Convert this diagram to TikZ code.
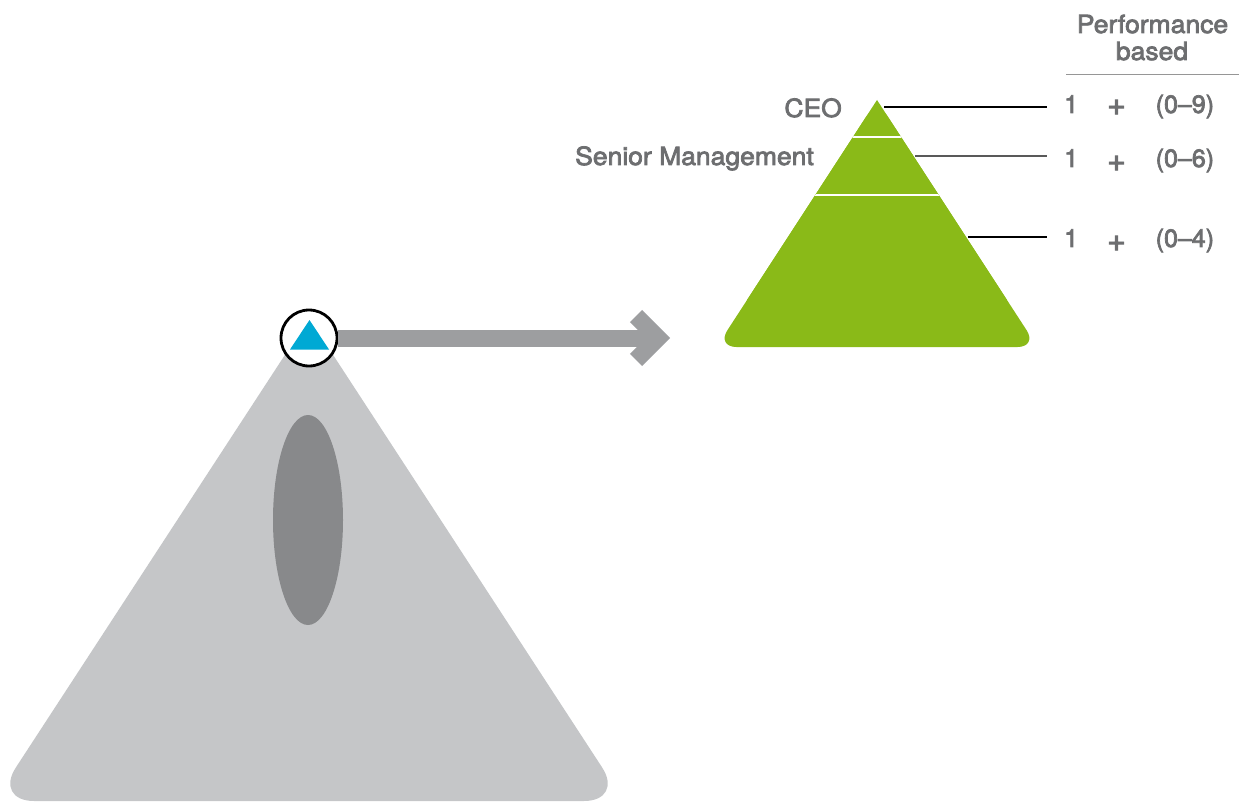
\documentclass[tikz,border=0pt]{standalone}
\usepackage{fontspec}
\setmainfont{TeX Gyre Heros}
\newfontfamily\labfont{TeX Gyre Heros}[FakeStretch=1.06,FakeBold=3]
\newfontfamily\numfont{TeX Gyre Heros}[FakeBold=3]
\definecolor{txtgray}{RGB}{109,110,112}
\definecolor{lgray}{RGB}{197,198,200}
\definecolor{dgray}{RGB}{136,137,139}
\definecolor{agray}{RGB}{157,158,160}
\definecolor{pgreen}{RGB}{138,186,24}
\definecolor{tblue}{RGB}{0,169,212}
\definecolor{rulegray}{RGB}{150,150,150}
\begin{document}
\begin{tikzpicture}[x=1pt,y=-1pt,
  lab/.style={text=txtgray,font=\labfont\fontsize{25}{30}\selectfont,inner sep=0pt},
  numtxt/.style={text=txtgray,font=\numfont\fontsize{25}{30}\selectfont,inner sep=0pt,anchor=base west},
  plustxt/.style={text=txtgray,font=\numfont\fontsize{32}{36}\selectfont,inner sep=0pt,anchor=center},
  leader/.style={line width=1.2pt},
  arrowbar/.style={agray,line width=17pt}]
\useasboundingbox (0,0) rectangle (1244,802);

% big grey pyramid
\fill[lgray,rounded corners=40pt] (309,318) -- (-6,801) -- (624,801) -- cycle;
\fill[dgray] (308,520) ellipse [x radius=35, y radius=105];

% arrow
\node[circle,draw=black,line width=2.8pt,fill=white,minimum size=56pt,inner sep=0pt] (top) at (309,338) {};
\fill[tblue] (309.5,320) -- (290,349.5) -- (329,349.5) -- cycle;
\coordinate (barend) at (652,338);
\draw[arrowbar] (top.east) -- (barend);
\draw[arrowbar,line join=miter] (636,316) -- (658,338) -- (636,360);

% green pyramid
\fill[pgreen,rounded corners=20pt] (877,100) -- (716.5,347) -- (1037.5,347) -- cycle;
\fill[pgreen] (877,100) -- (747,300) -- (1007,300) -- cycle;
\begin{scope}
  \clip (877,100) -- (716.5,347) -- (1037.5,347) -- cycle;
  \draw[white,line width=2.5pt] (700,137) -- (1050,137);
  \draw[white,line width=2.5pt] (700,195) -- (1050,195);
\end{scope}

% labels
\node[lab,anchor=base east] (ceo) at (842,117) {CEO};
\node[lab,anchor=base east] (senior) at (814,165) {Senior Management};
\node[lab,anchor=base] (perf) at (1152.5,33) {Performance};
\node[lab,anchor=base] (based) at (1152,60) {based};
\coordinate (ruleL) at (1066,75);
\coordinate (ruleR) at (1239,75);
\draw[rulegray,line width=1pt] (ruleL) -- (ruleR);

% rows
\node[numtxt] (oneA) at (1064,113) {1};
\node[plustxt] (plusA) at (1116.5,107.5) {+};
\node[numtxt] (rangeA) at (1155.5,113) {(0–9)};
\node[numtxt] (oneB) at (1064,167) {1};
\node[plustxt] (plusB) at (1116.5,163.5) {+};
\node[numtxt] (rangeB) at (1155.5,167) {(0–6)};
\node[numtxt] (oneC) at (1064,247) {1};
\node[plustxt] (plusC) at (1116.5,243.5) {+};
\node[numtxt] (rangeC) at (1155.5,247) {(0–4)};

\coordinate (sA) at (884,107);
\coordinate (eA) at (1047,107);
\coordinate (sB) at (915,156);
\coordinate (eB) at (1047,156);
\coordinate (sC) at (968,237);
\coordinate (eC) at (1047,237);
\draw[leader,black] (sA) -- (eA);
\draw[leader,black!65] (sB) -- (eB);
\draw[leader,black] (sC) -- (eC);
\end{tikzpicture}
\end{document}
